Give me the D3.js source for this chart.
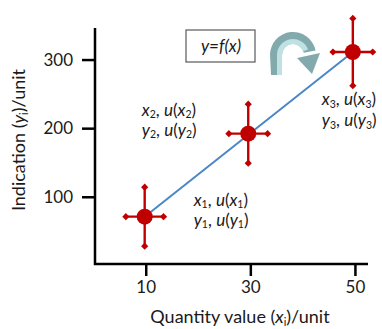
<!DOCTYPE html>
<html><head><meta charset="utf-8">
<script src="https://cdn.jsdelivr.net/npm/d3@7"></script>
<style>
html,body{margin:0;padding:0;background:#fff;}
svg{display:block;font-family:Lato,"Open Sans",sans-serif;}
</style></head>
<body>
<svg id="chart" width="382" height="329"></svg>
<script>
// ---- data ----
const xValues = [9.8, 29.6, 49.6];
const yValues = [71, 192, 311];
const xUncertainty = [3.6, 3.7, 3.8];
const yUncertainty = [43, 43, 49];
const xTicks = [10, 30, 50];
const yTicks = [100, 200, 300];
const fitLine = [{x: 9.8, y: 71}, {x: 49.6, y: 311}];
const xAxisTitle = ["Quantity value (", "x", "i", ")/unit"];
const yAxisTitle = ["Indication (", "y", "i", ")/unit"];
const modelLabel = "y=f(x)";

const svg = d3.select("#chart");
const mLeft = 95, mRight = 368, mTop = 28, mBottom = 264;
const x = d3.scaleLinear().domain([0.3, 52.5]).range([mLeft, mRight]);
const y = d3.scaleLinear().domain([2, 346]).range([mBottom, mTop]);

const red = "#c00000";
const ink = "#1a1a1a";

// axes
const gx = svg.append("g").attr("transform", `translate(0,${mBottom})`)
  .call(d3.axisBottom(x).tickValues(xTicks).tickSize(12).tickSizeOuter(0).tickPadding(5).tickFormat(d3.format("d")));
const gy = svg.append("g").attr("transform", `translate(${mLeft},0)`)
  .call(d3.axisLeft(y).tickValues(yTicks).tickSize(13).tickSizeOuter(0).tickPadding(9).tickFormat(d3.format("d")));
[gx, gy].forEach(g => {
  g.select(".domain").remove();
  g.selectAll(".tick line").attr("stroke", "#000").attr("stroke-width", 2.5);
  g.selectAll(".tick text").attr("fill", ink).style("font-size", "17px").style("font-family", "Lato,'Open Sans',sans-serif");
});
svg.append("path")
  .attr("d", `M${mLeft},${mTop}V${mBottom}H${mRight}`)
  .attr("fill", "none").attr("stroke", "#000").attr("stroke-width", 2.5)
  .attr("stroke-linejoin", "miter");

// axis titles
function rich(textSel, parts) {
  textSel.append("tspan").text(parts[0]);
  textSel.append("tspan").attr("font-style", "italic").text(parts[1]);
  textSel.append("tspan").attr("font-size", "11px").attr("dy", 3).text(parts[2]);
  textSel.append("tspan").attr("dy", -3).text(parts[3]);
}
rich(svg.append("text").attr("x", 240).attr("y", 323).attr("text-anchor", "middle")
  .style("font-size", "18px").attr("fill", ink), xAxisTitle);
rich(svg.append("text").attr("transform", "translate(25,140) rotate(-90)").attr("text-anchor", "middle")
  .style("font-size", "18px").attr("fill", ink), yAxisTitle);

// fit line
svg.append("path").datum(fitLine)
  .attr("d", d3.line().x(d => x(d.x)).y(d => y(d.y)))
  .attr("stroke", "#4a86c8").attr("stroke-width", 2).attr("fill", "none");

// points with error bars
const pts = xValues.map((v, i) => ({x: v, y: yValues[i], ux: xUncertainty[i], uy: yUncertainty[i], i}));
const pg = svg.append("g").selectAll("g").data(pts).join("g");
pg.append("line").attr("x1", d => x(d.x - d.ux)).attr("x2", d => x(d.x + d.ux))
  .attr("y1", d => y(d.y)).attr("y2", d => y(d.y)).attr("stroke", red).attr("stroke-width", 2.4);
pg.append("line").attr("x1", d => x(d.x)).attr("x2", d => x(d.x))
  .attr("y1", d => y(d.y - d.uy)).attr("y2", d => y(d.y + d.uy)).attr("stroke", red).attr("stroke-width", 2.4);
const diamond = d3.symbol(d3.symbolSquare, 26);
pg.each(function(d) {
  const g = d3.select(this);
  const caps = [[d.x - d.ux, d.y], [d.x + d.ux, d.y], [d.x, d.y - d.uy], [d.x, d.y + d.uy]];
  g.selectAll("path.cap").data(caps).join("path").attr("class", "cap")
    .attr("d", diamond).attr("fill", red)
    .attr("transform", c => `translate(${x(c[0])},${y(c[1])}) rotate(45)`);
});
pg.append("circle").attr("cx", d => x(d.x)).attr("cy", d => y(d.y)).attr("r", 8).attr("fill", red);

// point annotations (one text element per annotation, two lines)
const annLayout = [{dx: 49, dy: -11, gap: 20}, {dx: -106.5, dy: -18, gap: 20}, {dx: -31, dy: 53, gap: 21}];
pts.forEach((d, i) => {
  const L = annLayout[i];
  const px = x(d.x) + L.dx, py = y(d.y) + L.dy;
  const t = svg.append("text").attr("x", px).attr("y", py)
    .style("font-size", "17px").attr("fill", ink);
  ["x", "y"].forEach((v, k) => {
    t.append("tspan").attr("x", px).attr("y", py + k * L.gap).attr("font-style", "italic").text(v);
    t.append("tspan").attr("font-size", "10.5px").attr("dy", 2.5).text(String(i + 1));
    t.append("tspan").attr("dy", -2.5).text(", ");
    t.append("tspan").attr("font-style", "italic").text("u");
    t.append("tspan").text("(");
    t.append("tspan").attr("font-style", "italic").text(v);
    t.append("tspan").attr("font-size", "10.5px").attr("dy", 2.5).text(String(i + 1));
    t.append("tspan").attr("dy", -2.5).text(")");
  });
});

// model box
svg.append("rect").attr("x", 186).attr("y", 30).attr("width", 69).attr("height", 32)
  .attr("fill", "#fff").attr("stroke", "#595959").attr("stroke-width", 1.2);
svg.append("text").attr("x", 221).attr("y", 52).attr("text-anchor", "middle")
  .style("font-size", "17px").attr("font-style", "italic").attr("fill", ink).text(modelLabel);

// curved arrow decoration
const ag = svg.append("g");
const cx = 293, cy = 55, ro = 23, ri = 11;
const dark = "#82a9ac", light = "#bfe1e4";
const arcOuter = d3.arc().innerRadius(ri).outerRadius(ro).startAngle(-Math.PI / 2).endAngle(Math.PI / 2 - 0.2);
ag.append("path").attr("transform", `translate(${cx},${cy})`).attr("d", arcOuter()).attr("fill", dark);
ag.append("path").attr("d", `M${cx - ro},${cy - 1} L${cx - ro + 1},${cy + 20} L${cx - ri},${cy + 20} L${cx - ri},${cy - 1} Z`).attr("fill", dark);
const arcInner = d3.arc().innerRadius(ri).outerRadius(ri + 5).startAngle(-Math.PI / 2).endAngle(Math.PI / 2 - 0.35);
ag.append("path").attr("transform", `translate(${cx},${cy})`).attr("d", arcInner()).attr("fill", light);
ag.append("path").attr("d", `M${cx - ri - 5},${cy - 1} L${cx - ri - 5},${cy + 20} L${cx - ri},${cy + 20} L${cx - ri},${cy - 1} Z`).attr("fill", light);
ag.append("path").attr("d", `M${cx + 4},${cy + 3} L${cx + 27},${cy - 2} L${cx + 19},${cy + 19} Z`).attr("fill", dark);
</script>
</body></html>
